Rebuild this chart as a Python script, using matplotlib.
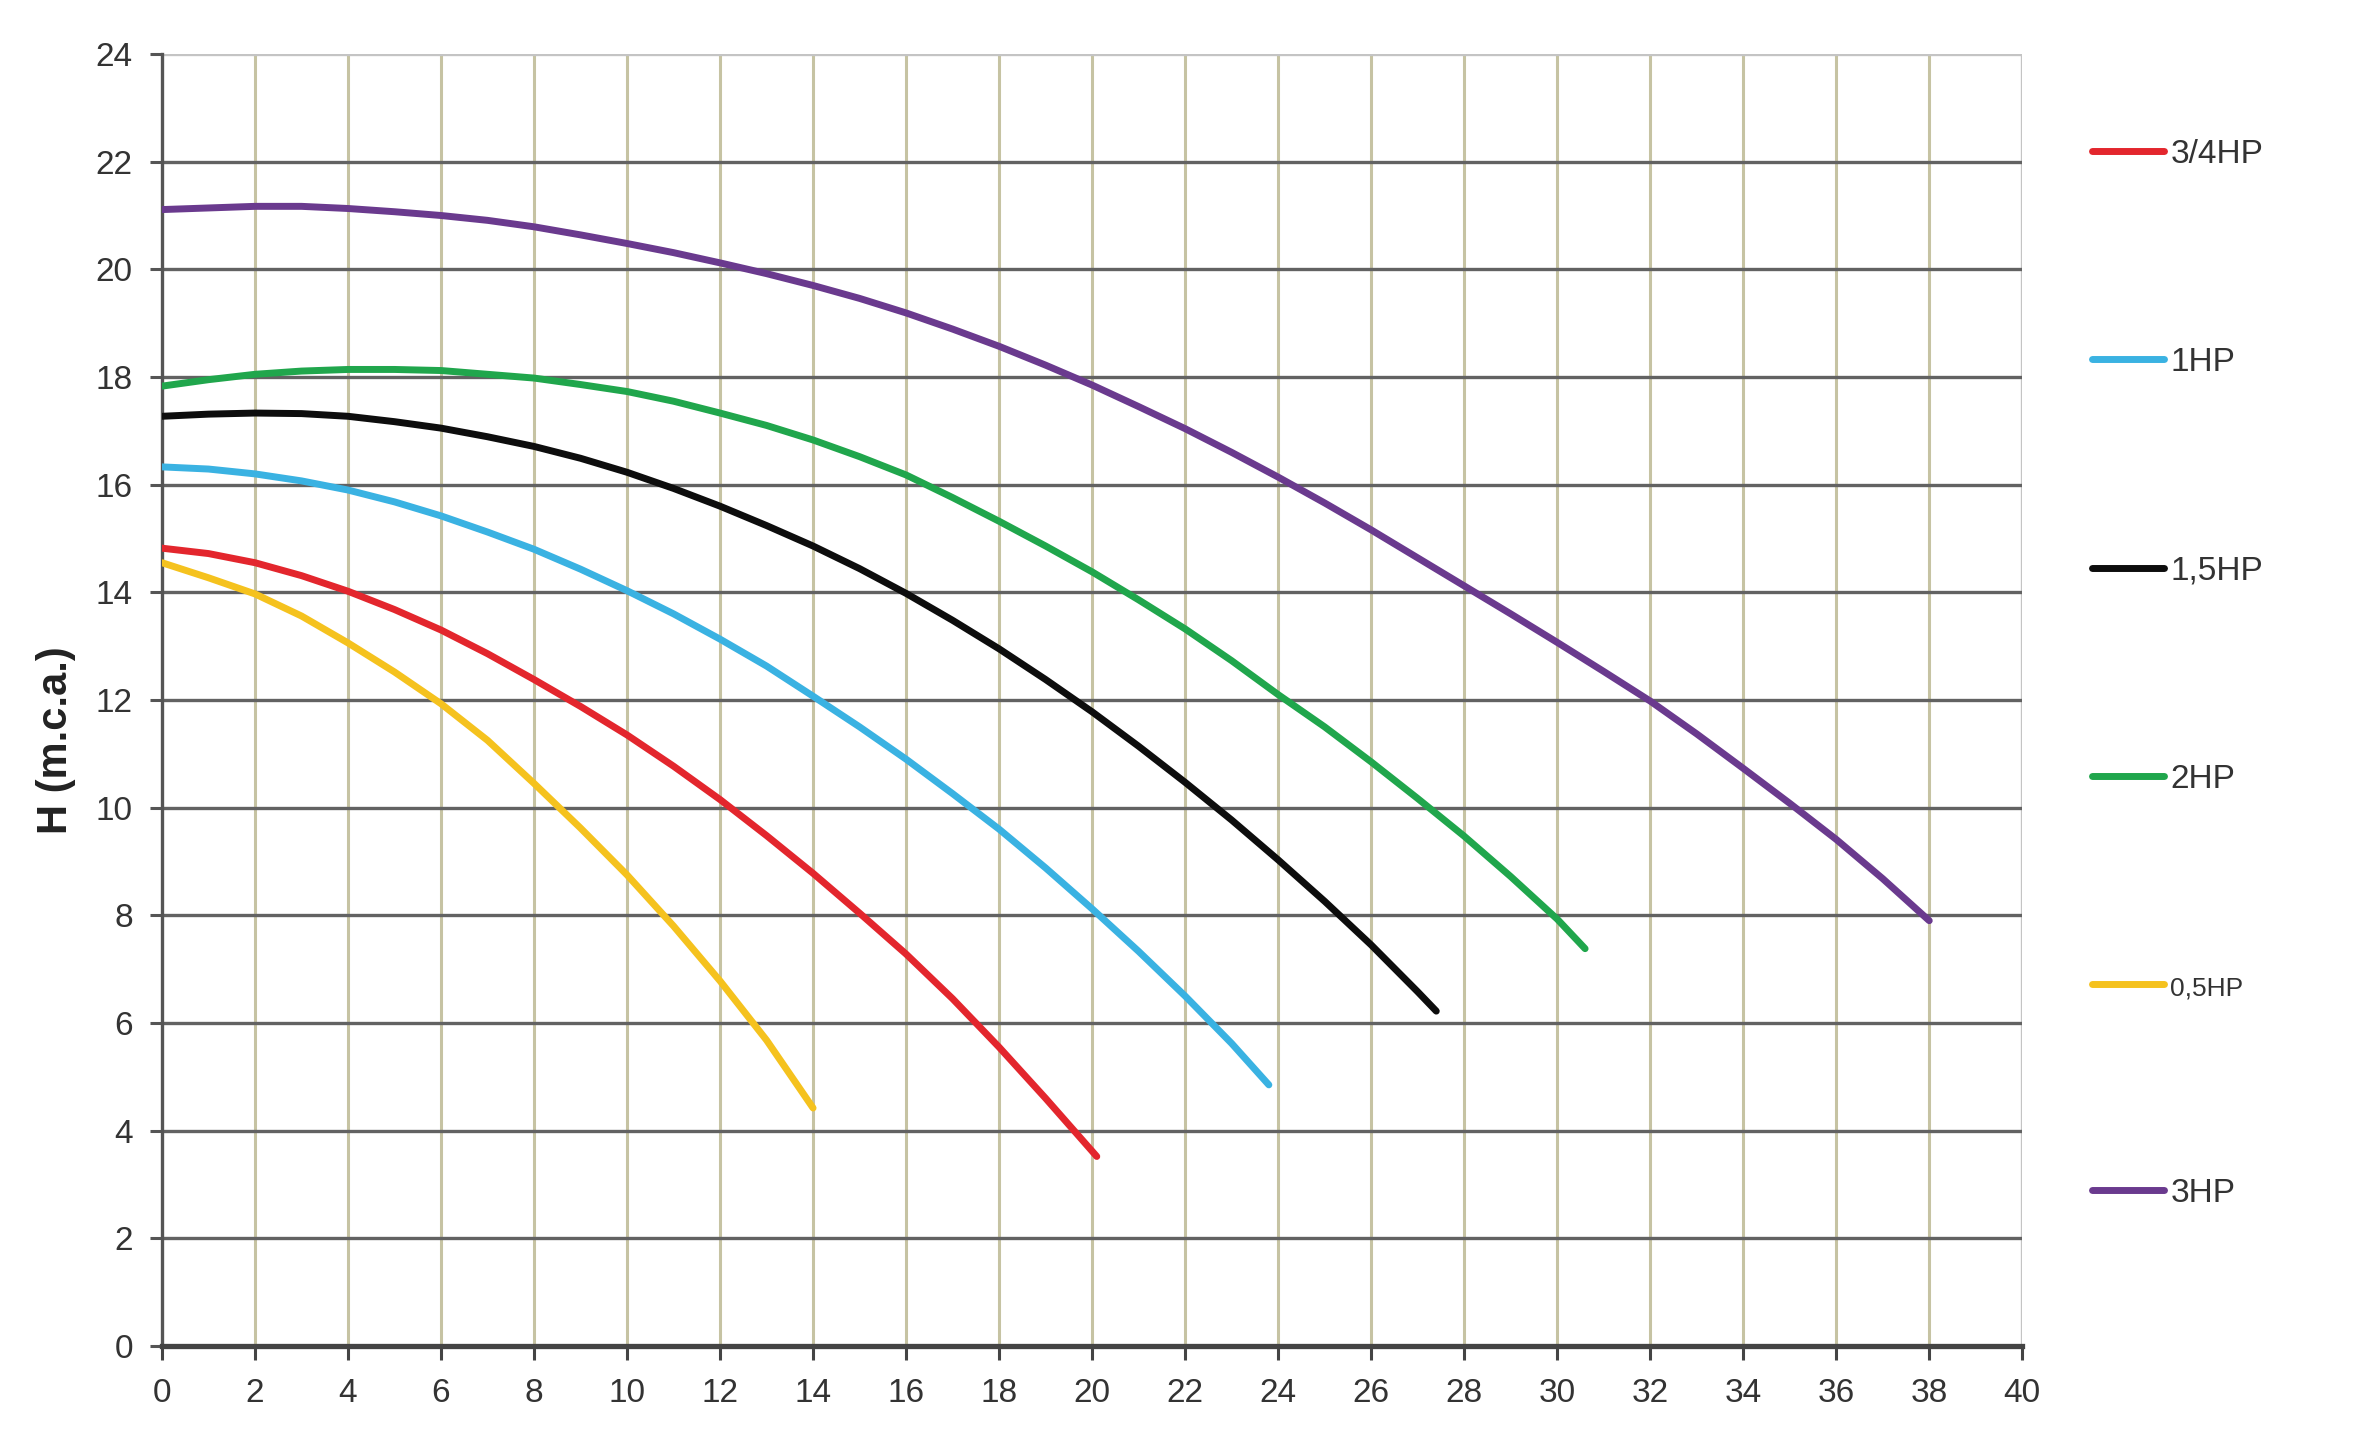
import matplotlib
matplotlib.use("Agg")
import matplotlib.pyplot as plt

plt.rcParams['font.family'] = ['Liberation Sans', 'DejaVu Sans']

# caudal (m3/h) vs altura (m.c.a.)
q_05 = [0, 1, 2, 3, 4, 5, 6, 7, 8, 9, 10, 11, 12, 13, 14]
h_05 = [14.55, 14.27, 13.97, 13.56, 13.06, 12.52, 11.93, 11.25, 10.45, 9.62,
        8.75, 7.8, 6.78, 5.68, 4.42]

q_075 = [0, 1, 2, 3, 4, 5, 6, 7, 8, 9, 10, 11, 12, 13, 14, 15, 16, 17, 18, 19, 20.1]
h_075 = [14.82, 14.72, 14.55, 14.31, 14.02, 13.68, 13.3, 12.86, 12.38, 11.88,
         11.35, 10.77, 10.15, 9.48, 8.78, 8.04, 7.28, 6.45, 5.55, 4.6, 3.52]

q_1 = [0, 1, 2, 3, 4, 5, 6, 7, 8, 9, 10, 11, 12, 13, 14, 15, 16, 17, 18, 19,
       20, 21, 22, 23, 23.8]
h_1 = [16.33, 16.29, 16.2, 16.07, 15.9, 15.68, 15.42, 15.12, 14.8, 14.43,
       14.03, 13.6, 13.13, 12.63, 12.07, 11.5, 10.9, 10.26, 9.6, 8.88,
       8.12, 7.33, 6.5, 5.62, 4.85]

q_15 = [0, 1, 2, 3, 4, 5, 6, 7, 8, 9, 10, 11, 12, 13, 14, 15, 16, 17, 18, 19,
        20, 21, 22, 23, 24, 25, 26, 27, 27.4]
h_15 = [17.27, 17.31, 17.33, 17.32, 17.27, 17.17, 17.05, 16.89, 16.71, 16.49,
        16.23, 15.93, 15.6, 15.24, 14.86, 14.44, 13.98, 13.48, 12.95, 12.38,
        11.78, 11.14, 10.47, 9.77, 9.03, 8.26, 7.45, 6.58, 6.22]

q_2 = [0, 1, 2, 3, 4, 5, 6, 7, 8, 9, 10, 11, 12, 13, 14, 15, 16, 17, 18, 19,
       20, 21, 22, 23, 24, 25, 26, 27, 28, 29, 30, 30.6]
h_2 = [17.83, 17.95, 18.05, 18.11, 18.14, 18.14, 18.12, 18.05, 17.98, 17.86,
       17.73, 17.55, 17.33, 17.1, 16.83, 16.52, 16.18, 15.76, 15.32, 14.86,
       14.38, 13.86, 13.32, 12.73, 12.1, 11.5, 10.85, 10.17, 9.47, 8.72, 7.93, 7.38]

q_3 = [0, 1, 2, 3, 4, 5, 6, 7, 8, 9, 10, 11, 12, 13, 14, 15, 16, 17, 18, 19,
       20, 21, 22, 23, 24, 25, 26, 27, 28, 29, 30, 31, 32, 33, 34, 35, 36, 37, 38]
h_3 = [21.11, 21.14, 21.17, 21.17, 21.13, 21.07, 21.0, 20.91, 20.79, 20.64,
       20.48, 20.31, 20.12, 19.92, 19.7, 19.46, 19.19, 18.89, 18.57, 18.22,
       17.85, 17.45, 17.04, 16.6, 16.14, 15.66, 15.16, 14.64, 14.12, 13.6,
       13.07, 12.53, 11.98, 11.37, 10.73, 10.08, 9.41, 8.68, 7.9]

x_ticks = list(range(0, 41, 2))
y_ticks = list(range(0, 25, 2))

fig = plt.figure(figsize=(23.68, 14.44), dpi=100)
ax = fig.add_axes([0.0684, 0.0679, 0.7856, 0.8947])

lw = 5
kw = dict(lw=lw, zorder=5, solid_capstyle='round', solid_joinstyle='round')
l075, = ax.plot(q_075, h_075, color='#e3262d', label='3/4HP', **kw)
l1, = ax.plot(q_1, h_1, color='#3ab2e2', label='1HP', **kw)
l15, = ax.plot(q_15, h_15, color='#0d0d0d', label='1,5HP', **kw)
l2, = ax.plot(q_2, h_2, color='#20a64c', label='2HP', **kw)
l05, = ax.plot(q_05, h_05, color='#f5c21e', label='0,5HP', **kw)
l3, = ax.plot(q_3, h_3, color='#6a3a8e', label='3HP', **kw)

ax.set_xlim(0, 40)
ax.set_ylim(0, 24)
ax.set_xticks(x_ticks)
ax.set_yticks(y_ticks)

# grid: dark horizontal, khaki vertical
for y in y_ticks[1:-1]:
    ax.axhline(y, color='#626262', lw=2.4, zorder=2)
ax.axhline(24, color='#c4c4c4', lw=2.4, zorder=2)
for x in x_ticks[1:-1]:
    ax.axvline(x, color='#c6c3a3', lw=2.2, zorder=1)
ax.axvline(40, color='#c4c4c4', lw=2.4, zorder=1)

for s in ['top', 'right']:
    ax.spines[s].set_visible(False)
ax.spines['left'].set_color('#555555')
ax.spines['left'].set_linewidth(2.4)
ax.spines['bottom'].set_color('#444444')
ax.spines['bottom'].set_linewidth(3.8)

ax.tick_params(axis='y', direction='out', length=9, width=2.2, color='#555555',
               labelsize=24, labelcolor='#333333', pad=12)
ax.tick_params(axis='x', direction='out', length=10, width=2.2, color='#444444',
               labelsize=24, labelcolor='#333333', pad=13)

ax.set_ylabel('H (m.c.a.)', fontsize=30, fontweight='bold', color='#222222')
ax.yaxis.set_label_coords(-0.046, 0.469)

leg = fig.legend(handles=[l075, l1, l15, l2, l05, l3], loc='upper left',
                 bbox_to_anchor=(0.8834, 0.904), frameon=False, fontsize=24,
                 handlelength=2.15, handletextpad=0.2, labelspacing=5.32,
                 borderpad=0, borderaxespad=0)
for t in leg.get_texts():
    t.set_color('#333333')
leg.get_texts()[4].set_fontsize(19)
for h in leg.get_lines():
    h.set_linewidth(5)

fig.savefig('out.png', dpi=100)
